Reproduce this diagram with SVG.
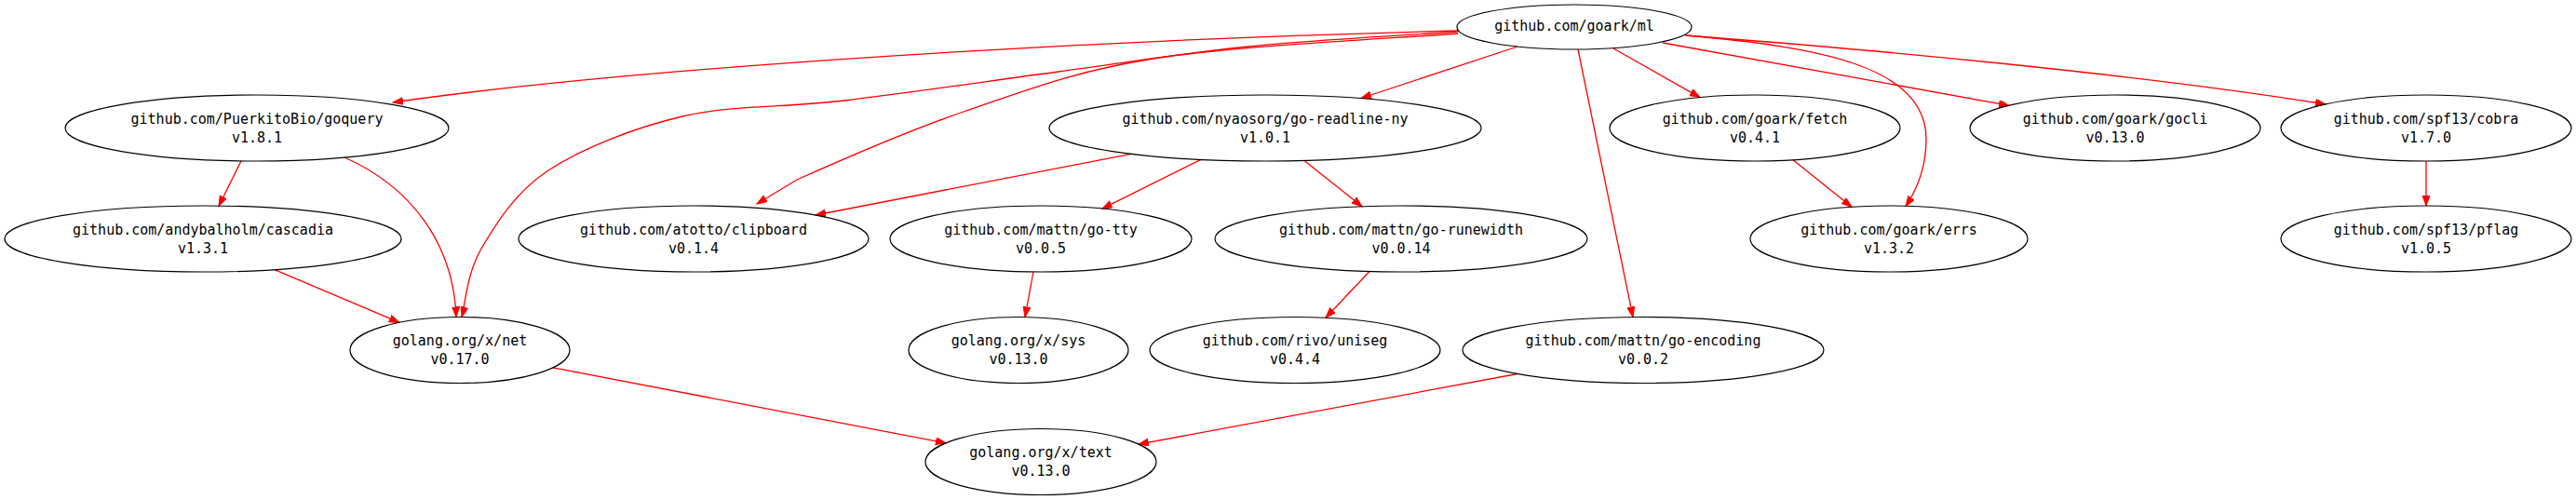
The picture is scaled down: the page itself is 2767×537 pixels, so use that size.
<svg xmlns="http://www.w3.org/2000/svg" width="2767" height="537" viewBox="0 0 2767 537">
<style>
.n ellipse{fill:none;stroke:#000;stroke-width:1.2}
.n text{font-family:"DejaVu Sans Mono","Liberation Mono",monospace;font-size:15px;text-anchor:middle;fill:#000}
.e path{fill:none;stroke:#ff0000;stroke-width:1.3;marker-end:url(#arr)}
</style>
<defs>
<marker id="arr" markerUnits="userSpaceOnUse" markerWidth="12" markerHeight="9" refX="11" refY="4" orient="auto">
<path d="M0,0 L11,4 L0,8 z" fill="#ff0000" stroke="#ff0000" stroke-width="1"/>
</marker>
</defs>
<rect width="2767" height="537" fill="#fff"/>
<g id="connectors" class="e">
<path d="M1567,33 C1200,42 700,70 422,110"/>
<path d="M1566,34 C1528.5,36.7 1412.5,42.8 1341,50 C1269.5,57.2 1209.3,67.3 1137,77 C1064.7,86.7 974.3,100 907,108 C839.7,116 786,112.5 733,125 C680,137.5 625,159.3 589,183 C553,206.7 532.5,240.8 517,267 C501.5,293.2 499.5,328 496,340.5"/>
<path d="M1566,36 C1511.5,40.5 1327.5,49 1239,63 C1150.5,77 1098.8,98.3 1035,120 C971.2,141.7 893,176.5 856,193 C841.7,201.7 827.3,210.3 813,219"/>
<path d="M1630,50 L1462,105.5"/>
<path d="M1695,53 L1754,340.5"/>
<path d="M1733,52 L1826,104.6"/>
<path d="M1810,38 C1950,50 2070,70 2069,150 C2069,180 2058,205 2047,221.5"/>
<path d="M1786,46 L2158,113.3"/>
<path d="M1810,38 C2000,52 2300,80 2498,112"/>
<path d="M259,173 L235,221.2"/>
<path d="M370,169 C440,200 487,260 490,340.5"/>
<path d="M295,289.6 L429,346.4"/>
<path d="M1215,165.3 L876,231"/>
<path d="M1290,171.4 L1184,224.1"/>
<path d="M1401,172.4 L1463,221.8"/>
<path d="M1110,292 L1101,340.5"/>
<path d="M1471,291.5 L1424,341.3"/>
<path d="M1926,171.7 L1989,222.3"/>
<path d="M2606,173 L2606,221"/>
<path d="M594,394.9 L1016,475.8"/>
<path d="M1630,401.5 L1223,477.1"/>
</g>
<g id="ml" class="n"><ellipse cx="1691" cy="29" rx="126" ry="24"/><text x="1691" y="32.5">github.com/goark/ml</text></g>
<g id="goquery" class="n"><ellipse cx="276" cy="137.5" rx="206" ry="35.5"/><text x="276" y="132.5">github.com/PuerkitoBio/goquery</text><text x="276" y="152.5">v1.8.1</text></g>
<g id="go-readline-ny" class="n"><ellipse cx="1359" cy="137.5" rx="232" ry="35.5"/><text x="1359" y="132.5">github.com/nyaosorg/go-readline-ny</text><text x="1359" y="152.5">v1.0.1</text></g>
<g id="fetch" class="n"><ellipse cx="1885" cy="137.5" rx="156" ry="35.5"/><text x="1885" y="132.5">github.com/goark/fetch</text><text x="1885" y="152.5">v0.4.1</text></g>
<g id="gocli" class="n"><ellipse cx="2272" cy="137.5" rx="156" ry="35.5"/><text x="2272" y="132.5">github.com/goark/gocli</text><text x="2272" y="152.5">v0.13.0</text></g>
<g id="cobra" class="n"><ellipse cx="2606" cy="137.5" rx="156" ry="35.5"/><text x="2606" y="132.5">github.com/spf13/cobra</text><text x="2606" y="152.5">v1.7.0</text></g>
<g id="cascadia" class="n"><ellipse cx="218" cy="256.5" rx="213" ry="35.5"/><text x="218" y="251.5">github.com/andybalholm/cascadia</text><text x="218" y="271.5">v1.3.1</text></g>
<g id="clipboard" class="n"><ellipse cx="745" cy="256.5" rx="188" ry="35.5"/><text x="745" y="251.5">github.com/atotto/clipboard</text><text x="745" y="271.5">v0.1.4</text></g>
<g id="go-tty" class="n"><ellipse cx="1118" cy="256.5" rx="162" ry="35.5"/><text x="1118" y="251.5">github.com/mattn/go-tty</text><text x="1118" y="271.5">v0.0.5</text></g>
<g id="go-runewidth" class="n"><ellipse cx="1505" cy="256.5" rx="200" ry="35.5"/><text x="1505" y="251.5">github.com/mattn/go-runewidth</text><text x="1505" y="271.5">v0.0.14</text></g>
<g id="errs" class="n"><ellipse cx="2029" cy="256.5" rx="149" ry="35.5"/><text x="2029" y="251.5">github.com/goark/errs</text><text x="2029" y="271.5">v1.3.2</text></g>
<g id="pflag" class="n"><ellipse cx="2606" cy="256.5" rx="156" ry="35.5"/><text x="2606" y="251.5">github.com/spf13/pflag</text><text x="2606" y="271.5">v1.0.5</text></g>
<g id="net" class="n"><ellipse cx="494" cy="376" rx="118" ry="35.5"/><text x="494" y="371">golang.org/x/net</text><text x="494" y="391">v0.17.0</text></g>
<g id="sys" class="n"><ellipse cx="1094" cy="376" rx="118" ry="35.5"/><text x="1094" y="371">golang.org/x/sys</text><text x="1094" y="391">v0.13.0</text></g>
<g id="uniseg" class="n"><ellipse cx="1391" cy="376" rx="156" ry="35.5"/><text x="1391" y="371">github.com/rivo/uniseg</text><text x="1391" y="391">v0.4.4</text></g>
<g id="go-encoding" class="n"><ellipse cx="1765" cy="376" rx="194" ry="35.5"/><text x="1765" y="371">github.com/mattn/go-encoding</text><text x="1765" y="391">v0.0.2</text></g>
<g id="text" class="n"><ellipse cx="1118" cy="496" rx="124" ry="35.5"/><text x="1118" y="491">golang.org/x/text</text><text x="1118" y="511">v0.13.0</text></g>
</svg>
